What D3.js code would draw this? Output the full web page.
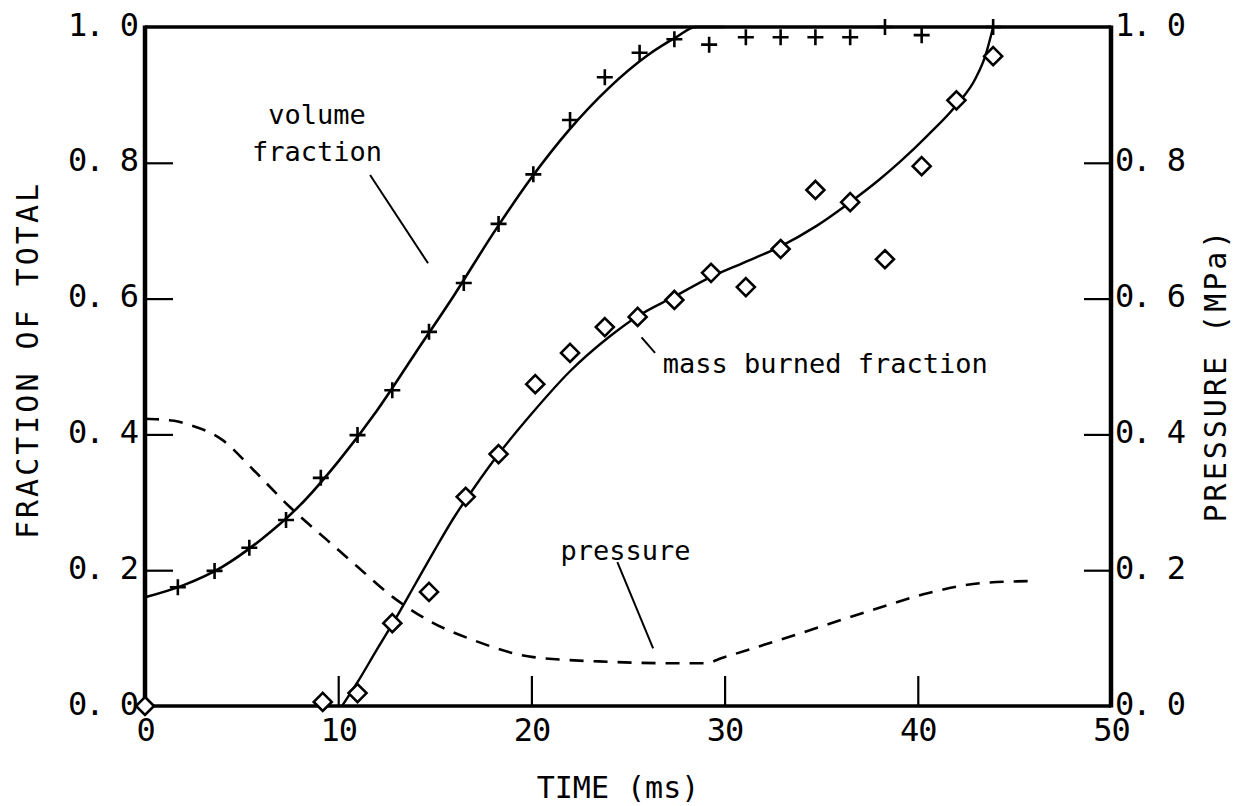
<!DOCTYPE html>
<html>
<head>
<meta charset="utf-8">
<script src="https://cdn.jsdelivr.net/npm/d3@7"></script>
<style>
  body { margin: 0; background: #fff; }
  svg { display: block; }
  text { font-family: "DejaVu Sans Mono", monospace; fill: #000; }
</style>
</head>
<body>
<div id="chart"></div>
<script>
// measured points: volume fraction (+)
const volTime = [1.7, 3.6, 5.4, 7.3, 9.1, 11.0, 12.8, 14.7, 16.5, 18.3, 20.1, 22.0, 23.8, 25.6, 27.4, 29.2, 31.1, 32.9, 34.7, 36.5, 38.3, 40.2, 43.9];
const volValue = [0.175, 0.199, 0.233, 0.274, 0.336, 0.399, 0.465, 0.551, 0.623, 0.71, 0.783, 0.863, 0.926, 0.962, 0.982, 0.974, 0.985, 0.985, 0.985, 0.985, 1.0, 0.988, 1.0];

// measured points: mass burned fraction (diamonds)
const massTime = [0, 9.2, 11.0, 12.8, 14.7, 16.6, 18.3, 20.2, 22.0, 23.8, 25.5, 27.4, 29.3, 31.1, 32.9, 34.7, 36.5, 38.3, 40.2, 42.0, 43.9];
const massValue = [0, 0.006, 0.019, 0.122, 0.168, 0.308, 0.371, 0.474, 0.52, 0.558, 0.573, 0.598, 0.638, 0.617, 0.673, 0.76, 0.742, 0.658, 0.795, 0.892, 0.957];

// fitted curves
const volFitTime = [0, 2, 4, 6, 8, 10, 12, 14, 16, 18, 20, 22, 24, 26, 27.5, 28.5, 30];
const volFitValue = [0.16, 0.178, 0.205, 0.245, 0.295, 0.36, 0.435, 0.52, 0.605, 0.695, 0.778, 0.85, 0.91, 0.958, 0.985, 1.0, 1.0];

const massFitTime = [10.2, 11, 12, 13, 14, 15, 16, 17, 18.3, 20, 22, 24, 25.5, 27.4, 29.3, 31, 32.9, 34.7, 36.5, 38, 39.1, 40.5, 42, 43, 43.5, 43.9];
const massFitValue = [0, 0.035, 0.083, 0.13, 0.18, 0.23, 0.278, 0.32, 0.371, 0.43, 0.493, 0.543, 0.574, 0.603, 0.632, 0.653, 0.677, 0.706, 0.742, 0.775, 0.802, 0.84, 0.885, 0.925, 0.958, 1.0];

// pressure (MPa), dashed
const presTime = [0, 1.5, 2.3, 4.0, 5.6, 7.5, 9.4, 11.0, 12.85, 14.8, 17.0, 20.1, 24.1, 27.0, 29.0, 29.9, 33.7, 37.6, 40.5, 43.3, 45.8];
const presValue = [0.423, 0.42, 0.414, 0.392, 0.348, 0.293, 0.245, 0.205, 0.16, 0.124, 0.097, 0.072, 0.065, 0.063, 0.063, 0.071, 0.105, 0.141, 0.166, 0.181, 0.184];

const xTicks = [0, 10, 20, 30, 40, 50];
const yTicks = [0, 0.2, 0.4, 0.6, 0.8, 1.0];

const width = 1237, height = 806;
const margin = { top: 27, right: 126, bottom: 100, left: 145 };
const innerWidth = width - margin.left - margin.right;
const innerHeight = height - margin.top - margin.bottom;

const svg = d3.select("#chart").append("svg")
    .attr("width", width)
    .attr("height", height);

const g = svg.append("g")
    .attr("transform", `translate(${margin.left}, ${margin.top})`);

const x = d3.scaleLinear().domain([0, 50]).range([0, innerWidth]);
const y = d3.scaleLinear().domain([0, 1]).range([innerHeight, 0]);

const fmt = d => d3.format(".1f")(d).replace(".", ". ");
const fontSize = 32;

// tick labels
g.append("g")
    .call(d3.axisLeft(y).tickValues(yTicks).tickSize(0).tickPadding(8).tickFormat(fmt))
    .call(a => a.select(".domain").remove())
    .selectAll("text").style("font-size", `${fontSize}px`).style("letter-spacing", "-2px")
    .attr("dy", "0.25em").attr("font-family", null);

g.append("g")
    .attr("transform", `translate(${innerWidth}, 0)`)
    .call(d3.axisRight(y).tickValues(yTicks).tickSize(0).tickPadding(4).tickFormat(fmt))
    .call(a => a.select(".domain").remove())
    .selectAll("text").style("font-size", `${fontSize}px`).style("letter-spacing", "-2px")
    .attr("dy", "0.25em").attr("font-family", null);

g.append("g")
    .attr("transform", `translate(0, ${innerHeight})`)
    .call(d3.axisBottom(x).tickValues(xTicks).tickSize(0).tickPadding(12).tickFormat(d3.format("d")))
    .call(a => a.select(".domain").remove())
    .selectAll("text").style("font-size", `${fontSize}px`).style("letter-spacing", "-1px")
    .attr("font-family", null);

// inward ticks
const tickStyle = a => {
    a.select(".domain").remove();
    a.selectAll("line").attr("stroke", "#000").attr("stroke-width", 2.2);
};
g.append("g")
    .call(d3.axisLeft(y).tickValues(yTicks.slice(1, -1)).tickSize(-28).tickFormat(""))
    .call(tickStyle);
g.append("g")
    .attr("transform", `translate(${innerWidth}, 0)`)
    .call(d3.axisRight(y).tickValues(yTicks.slice(1, -1)).tickSize(-27).tickFormat(""))
    .call(tickStyle);
g.append("g")
    .attr("transform", `translate(0, ${innerHeight})`)
    .call(d3.axisBottom(x).tickValues(xTicks.slice(1, -1)).tickSize(-30).tickFormat(""))
    .call(tickStyle);

// frame
g.append("path")
    .attr("d", `M0,0H${innerWidth}`).attr("stroke", "#000").attr("stroke-width", 3.5);
g.append("path")
    .attr("d", `M0,${innerHeight}H${innerWidth}`).attr("stroke", "#000").attr("stroke-width", 3.5);
g.append("path")
    .attr("d", `M0,-1.5V${innerHeight + 1.5}`).attr("stroke", "#000").attr("stroke-width", 4.5);
g.append("path")
    .attr("d", `M${innerWidth},-1.5V${innerHeight + 1.5}`).attr("stroke", "#000").attr("stroke-width", 4.5);

// curves
const line = d3.line()
    .x(d => x(d[0]))
    .y(d => y(d[1]))
    .curve(d3.curveMonotoneX);

g.append("path")
    .datum(d3.zip(volFitTime, volFitValue))
    .attr("d", line)
    .attr("fill", "none").attr("stroke", "#000").attr("stroke-width", 2.6);

g.append("path")
    .datum(d3.zip(massFitTime, massFitValue))
    .attr("d", line)
    .attr("fill", "none").attr("stroke", "#000").attr("stroke-width", 2.4);

g.append("path")
    .datum(d3.zip(presTime, presValue))
    .attr("d", line)
    .attr("fill", "none").attr("stroke", "#000").attr("stroke-width", 2.6)
    .attr("stroke-dasharray", "14,10");

// markers
const cross = 8;
g.selectAll("path.plus")
    .data(d3.zip(volTime, volValue))
    .join("path")
    .attr("class", "plus")
    .attr("d", d => `M${x(d[0]) - cross},${y(d[1])}h${2 * cross}M${x(d[0])},${y(d[1]) - cross}v${2 * cross}`)
    .attr("stroke", "#000").attr("stroke-width", 2.6);

const dm = 9;
g.selectAll("path.diamond")
    .data(d3.zip(massTime, massValue))
    .join("path")
    .attr("class", "diamond")
    .attr("d", d => `M${x(d[0])},${y(d[1]) - dm}l${dm},${dm}l${-dm},${dm}l${-dm},${-dm}Z`)
    .attr("fill", "#fff").attr("stroke", "#000").attr("stroke-width", 2.6);

// annotations
const labelSize = 27;
const note = (txt, tx, ty, anchor = "start") => g.append("text")
    .attr("x", x(tx)).attr("y", y(ty))
    .attr("text-anchor", anchor)
    .style("font-size", `${labelSize}px`)
    .text(txt);
const leader = (t1, v1, t2, v2) => g.append("line")
    .attr("x1", x(t1)).attr("y1", y(v1)).attr("x2", x(t2)).attr("y2", y(v2))
    .attr("stroke", "#000").attr("stroke-width", 2);

note("volume", 8.9, 0.857, "middle");
note("fraction", 8.9, 0.802, "middle");
leader(11.65, 0.782, 14.65, 0.652);

note("mass burned fraction", 26.8, 0.49);
leader(25.7, 0.543, 26.4, 0.52);

note("pressure", 21.5, 0.215);
leader(24.45, 0.212, 26.3, 0.085);

// axis titles
svg.append("text")
    .attr("transform", `translate(38, 360) rotate(-90)`)
    .attr("text-anchor", "middle")
    .style("font-size", "30px")
    .style("letter-spacing", "3px")
    .text("FRACTION OF TOTAL");

svg.append("text")
    .attr("transform", `translate(1226, 375) rotate(-90)`)
    .attr("text-anchor", "middle")
    .style("font-size", "30px")
    .style("letter-spacing", "3px")
    .text("PRESSURE (MPa)");

svg.append("text")
    .attr("x", 618).attr("y", 798)
    .attr("text-anchor", "middle")
    .style("font-size", "30px")
    .text("TIME (ms)");
</script>
</body>
</html>
